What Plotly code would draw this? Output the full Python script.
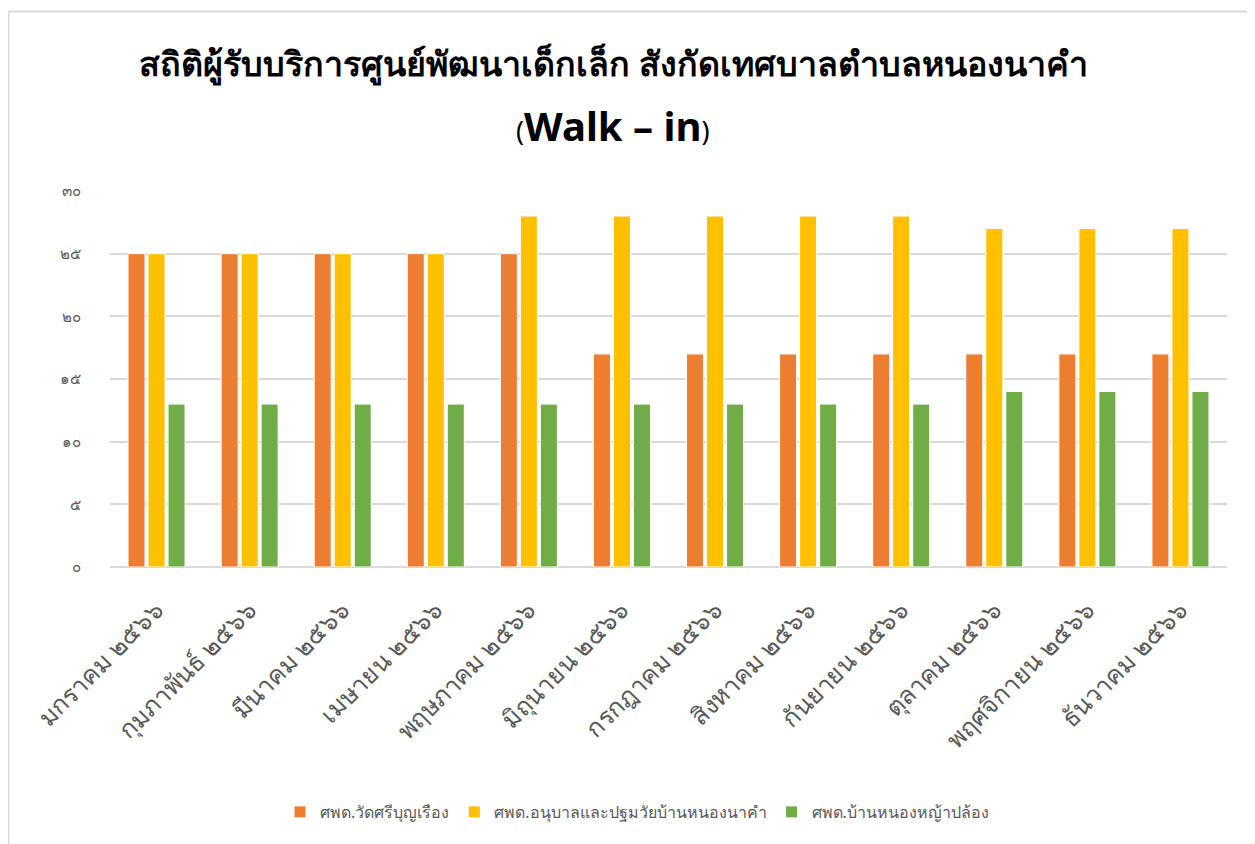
import plotly.graph_objects as go

months = ["มกราคม ๒๕๖๖", "กุมภาพันธ์ ๒๕๖๖", "มีนาคม ๒๕๖๖", "เมษายน ๒๕๖๖",
          "พฤษภาคม ๒๕๖๖", "มิถุนายน ๒๕๖๖", "กรกฎาคม ๒๕๖๖", "สิงหาคม ๒๕๖๖",
          "กันยายน ๒๕๖๖", "ตุลาคม ๒๕๖๖", "พฤศจิกายน ๒๕๖๖", "ธันวาคม ๒๕๖๖"]
series_names = ["ศพด.วัดศรีบุญเรือง", "ศพด.อนุบาลและปฐมวัยบ้านหนองนาคำ", "ศพด.บ้านหนองหญ้าปล้อง"]
wat_sri = [25, 25, 25, 25, 25, 17, 17, 17, 17, 17, 17, 17]
anuban = [25, 25, 25, 25, 28, 28, 28, 28, 28, 27, 27, 27]
nong_ya = [13, 13, 13, 13, 13, 13, 13, 13, 13, 14, 14, 14]
tick_vals = [0, 5, 10, 15, 20, 25, 30]
tick_text = ["๐", "๕", "๑๐", "๑๕", "๒๐", "๒๕", "๓๐"]
colors = ["#ED7D31", "#FFC000", "#70AD47"]

fig = go.Figure()
for name, vals, c in zip(series_names, [wat_sri, anuban, nong_ya], colors):
    fig.add_trace(go.Bar(x=months, y=vals, name=name,
                         marker=dict(color=c, line=dict(color="white", width=1))))

OFF = 8  # page body margin
W, H = 1255, 844
# plot area in page coords: x 110..1227, y 191..567
L = 110 - OFF
T = 191 - OFF
R = W - (1227 - OFF)
B = H - (567 - OFF)
pw, ph = W - L - R, H - T - B


def px(x):
    return (x - OFF - L) / pw


def py(y):
    return (H - B - (y - OFF)) / ph


fig.update_layout(
    width=W, height=H,
    margin=dict(l=L, r=R, t=T, b=B),
    paper_bgcolor="white", plot_bgcolor="white",
    barmode="group", bargap=0.355, bargroupgap=0.15,
    font=dict(family="Tahoma, 'Noto Sans', sans-serif", color="#595959"),
    showlegend=True,
    legend=dict(orientation="h", x=px(637), xanchor="center", y=py(812), yanchor="middle",
                font=dict(size=16, color="#595959"), traceorder="normal",
                itemwidth=30, entrywidthmode="pixels"),
    xaxis=dict(tickangle=-45, tickfont=dict(size=25, color="#595959"), showgrid=False,
               showline=False, ticks="", ticklabelstandoff=22),
    yaxis=dict(range=[0, 30], tickvals=tick_vals, ticktext=tick_text,
               tickfont=dict(size=15, color="#595959"), gridcolor="#d9d9d9", gridwidth=1.5,
               zeroline=True, zerolinecolor="#d9d9d9", zerolinewidth=1.5, ticks="",
               ticklabelstandoff=28),
    annotations=[
        dict(text="<b>สถิติผู้รับบริการศูนย์พัฒนาเด็กเล็ก สังกัดเทศบาลตำบลหนองนาคำ</b>",
             xref="paper", yref="paper", x=px(613), y=py(63), xanchor="center", yanchor="middle",
             showarrow=False, font=dict(size=34, color="black")),
        dict(text="<span style='font-size:27px'>(</span><b>Walk – in</b><span style='font-size:27px'>)</span>",
             xref="paper", yref="paper", x=px(613), y=py(125), xanchor="center", yanchor="middle",
             showarrow=False, font=dict(size=40, color="black")),
    ],
    shapes=[
        dict(type="line", xref="paper", yref="paper", x0=px(8.5), x1=px(8.5), y0=py(11.5), y1=py(860),
             line=dict(color="#d9d9d9", width=2)),
        dict(type="line", xref="paper", yref="paper", x0=px(8.5), x1=px(1270), y0=py(11.5), y1=py(11.5),
             line=dict(color="#d9d9d9", width=2)),
    ],
)

fig.write_html("out.html")
